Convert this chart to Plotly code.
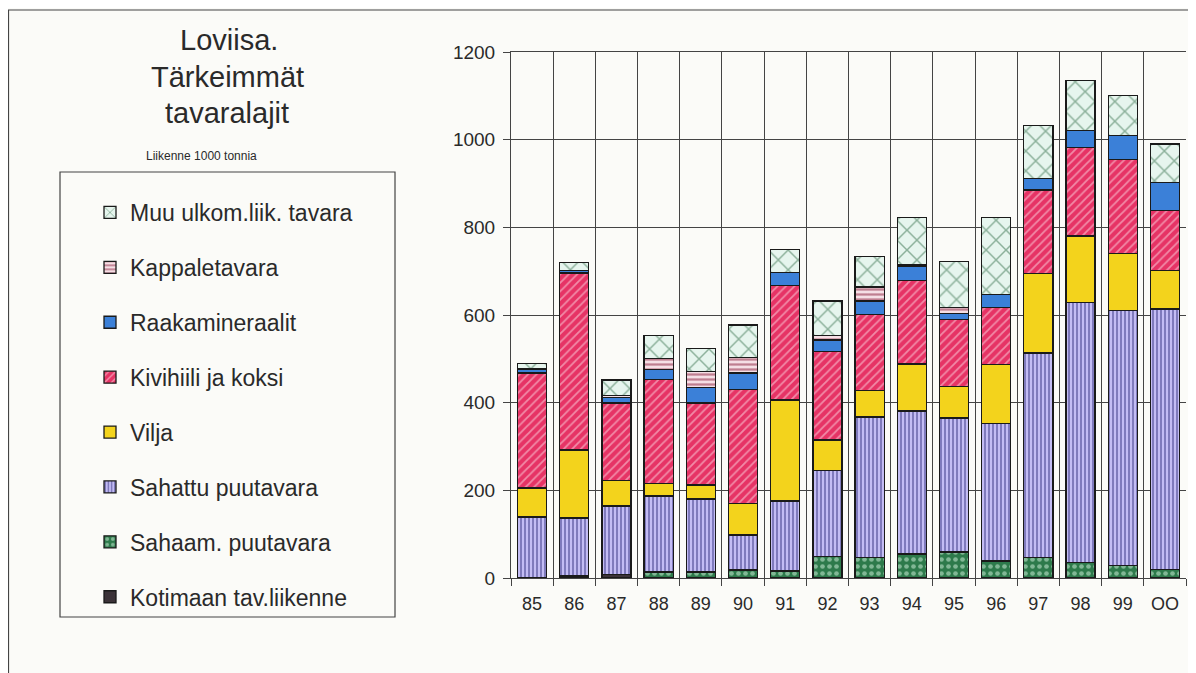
import plotly.graph_objects as go

years = ["85", "86", "87", "88", "89", "90", "91", "92", "93", "94", "95", "96", "97", "98", "99", "OO"]

kotimaan = [0, 3, 8, 0, 0, 0, 0, 0, 0, 0, 0, 0, 0, 0, 0, 0]
sahaam = [0, 2, 0, 14, 14, 18, 16, 49, 47, 55, 59, 39, 46, 35, 29, 20]
sahattu = [139, 132, 156, 173, 166, 80, 160, 196, 320, 326, 306, 314, 467, 593, 581, 594]
vilja = [66, 155, 58, 29, 32, 72, 230, 70, 61, 107, 72, 134, 182, 152, 130, 87]
kivihiili = [263, 404, 177, 237, 187, 260, 262, 201, 173, 191, 152, 130, 190, 202, 214, 138]
raaka = [7, 5, 13, 23, 36, 38, 29, 27, 31, 32, 14, 29, 26, 39, 55, 64]
kappale = [3, 0, 4, 25, 36, 35, 0, 11, 32, 3, 14, 0, 0, 0, 0, 0]
muu = [12, 19, 36, 52, 53, 74, 53, 78, 70, 109, 105, 177, 122, 114, 91, 87]

# bottom -> top of the stack
series = [
    ("Kotimaan tav.liikenne", kotimaan, "#3b3238", dict(shape="")),
    ("Sahaam. puutavara", sahaam, "#2d7a4b", dict(shape=".", fgcolor="#d6f3df", size=7, solidity=0.35)),
    ("Sahattu puutavara", sahattu, "#c3bcf4", dict(shape="|", fgcolor="#2c2a78", size=4, solidity=0.45)),
    ("Vilja", vilja, "#f3d31c", dict(shape="")),
    ("Kivihiili ja koksi", kivihiili, "#e63365", dict(shape="/", fgcolor="#fbe3ea", size=6, solidity=0.3)),
    ("Raakamineraalit", raaka, "#3b80d8", dict(shape="")),
    ("Kappaletavara", kappale, "#f5dfe5", dict(shape="-", fgcolor="#8a1e3c", size=5, solidity=0.45)),
    ("Muu ulkom.liik. tavara", muu, "#e6f5ee", dict(shape="x", fgcolor="#2f6b45", size=14, solidity=0.2)),
]

fig = go.Figure()
for i, (name, vals, col, pat) in enumerate(series):
    fig.add_trace(go.Bar(
        x=years, y=vals, name=name, legendgroup=name, legendrank=len(series) - i,
        marker=dict(color=col, pattern=pat, line=dict(color="#1a1a1a", width=1.3)),
        width=0.69,
    ))

# page is shifted by the 8px body margin; positions below are page pixels
OFF = 8
W, H = 1196 - OFF, 673 - OFF
L, R, T, B = 511, 1186, 52, 578
px = lambda v: (v - L) / (R - L)
py = lambda v: (B - v) / (B - T)

font = "Liberation Sans, Arial, sans-serif"
ink = "#2a2a2a"

annots = [
    dict(text="Loviisa.", x=229, y=40, size=29),
    dict(text="Tärkeimmät", x=227, y=77, size=29),
    dict(text="tavaralajit", x=227, y=113, size=29),
    dict(text="Liikenne 1000 tonnia", x=201, y=156, size=12),
]
for a in annots:
    fig.add_annotation(text=a["text"], x=px(a["x"]), y=py(a["y"]), xref="paper", yref="paper",
                       showarrow=False, xanchor="center", yanchor="middle",
                       font=dict(family=font, size=a["size"], color=ink))

# outer frame and legend box
fig.add_shape(type="rect", xref="paper", yref="paper", x0=px(8.5), x1=px(1189), y0=py(700), y1=py(10),
              line=dict(color="#444", width=1.2), layer="below")
fig.add_shape(type="rect", xref="paper", yref="paper", x0=px(60), x1=px(395), y0=py(617), y1=py(172),
              line=dict(color="#444", width=1.2), layer="below")

fig.update_layout(
    width=W, height=H,
    barmode="stack", bargap=0.31,
    paper_bgcolor="#fbfbf8", plot_bgcolor="#fbfbf8",
    margin=dict(l=L - OFF, r=W - (R - OFF), t=T - OFF, b=H - (B - OFF)),
    font=dict(family=font, size=15, color=ink),
    legend=dict(
        x=px(90), y=py(191), xanchor="left", yanchor="top",
        traceorder="grouped", tracegroupgap=22,
        font=dict(family=font, size=23, color=ink),
        bgcolor="rgba(0,0,0,0)", borderwidth=0,
    ),
    xaxis=dict(
        type="category", tickson="boundaries", showgrid=True, gridcolor="#444", gridwidth=1.2,
        ticks="outside", ticklen=7, tickcolor="#444", showline=True, linecolor="#444",
        mirror=True, ticklabelstandoff=9, tickfont=dict(size=18),
        range=[-0.5, 15.5],
    ),
    yaxis=dict(
        range=[0, 1200], tickvals=[0, 200, 400, 600, 800, 1000, 1200],
        showgrid=True, gridcolor="#444", gridwidth=1.2, zeroline=False,
        ticks="outside", ticklen=7, tickcolor="#444", showline=True, linecolor="#444",
        ticklabelstandoff=4, tickfont=dict(size=19),
    ),
)

fig.write_html("out.html")
